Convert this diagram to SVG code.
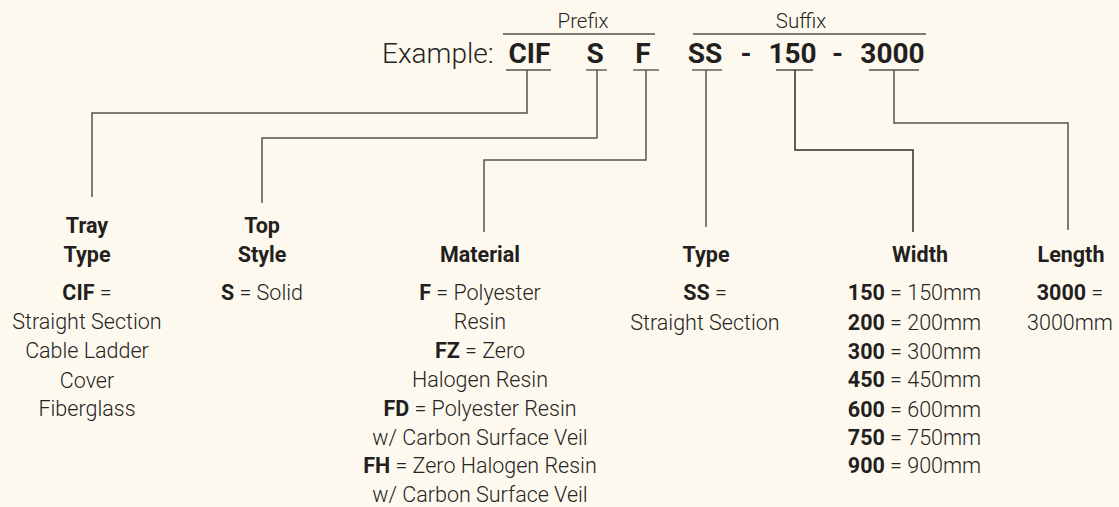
<svg xmlns="http://www.w3.org/2000/svg" width="1119" height="507" viewBox="0 0 1119 507">
<style>
.bg{fill:#fdf9ee}
.lt{font-family:Roboto,"Liberation Sans",sans-serif;font-weight:300;fill:#262424}
.bd{font-family:Roboto,"Liberation Sans",sans-serif;font-weight:700;fill:#231f20}
.body{font-size:21.5px;text-anchor:middle}
.head{font-size:21.5px;text-anchor:middle}
.code{font-size:28px;text-anchor:middle}
.bar{stroke:#7d7b74;stroke-width:1.8;fill:none}
.con{stroke:#55534e;stroke-width:1.5;fill:none}
</style>
<rect class="bg" x="0" y="0" width="1119" height="507"/>
<g id="example">
<text class="lt" x="382" y="63" font-size="28">Example:</text>
<text class="lt" x="583" y="28" font-size="20.5" text-anchor="middle">Prefix</text>
<text class="lt" x="801" y="28" font-size="20.5" text-anchor="middle">Suffix</text>
<line class="bar" x1="503" y1="34" x2="655" y2="34"/>
<line class="bar" x1="693" y1="34" x2="926" y2="34"/>
<text class="bd code" x="529.5" y="63">CIF</text>
<text class="bd code" x="595" y="63">S</text>
<text class="bd code" x="643" y="63">F</text>
<text class="bd code" x="705" y="63">SS</text>
<text class="bd code" x="746" y="63">-</text>
<text class="bd code" x="792.5" y="63">150</text>
<text class="bd code" x="837.5" y="63">-</text>
<text class="bd code" x="892.5" y="63">3000</text>
<line class="bar" x1="506" y1="70" x2="551" y2="70"/>
<line class="bar" x1="586" y1="70" x2="607" y2="70"/>
<line class="bar" x1="633" y1="70" x2="659" y2="70"/>
<line class="bar" x1="692" y1="70" x2="722" y2="70"/>
<line class="bar" x1="776" y1="70" x2="813" y2="70"/>
<line class="bar" x1="869" y1="70" x2="919" y2="70"/>
</g>
<g id="connectors">
<polyline class="con" points="527,70 527,113 92,113 92,197"/>
<polyline class="con" points="597,70 597,138 262,138 262,203"/>
<polyline class="con" points="646,70 646,160 484,160 484,232"/>
<polyline class="con" points="706,70 706,227"/>
<polyline class="con" points="795,70 795,150 913,150 913,232" style="stroke:#2f2d2a"/>
<polyline class="con" points="894,70 894,123 1068,123 1068,230"/>
</g>
<g id="tray-type">
<text class="bd head" x="87" y="233">Tray</text>
<text class="bd head" x="87" y="262">Type</text>
<text class="lt body" x="87" y="300"><tspan class="bd">CIF</tspan> =</text>
<text class="lt body" x="87" y="329">Straight Section</text>
<text class="lt body" x="87" y="358">Cable Ladder</text>
<text class="lt body" x="87" y="388">Cover</text>
<text class="lt body" x="87" y="416">Fiberglass</text>
</g>
<g id="top-style">
<text class="bd head" x="262" y="233">Top</text>
<text class="bd head" x="262" y="262">Style</text>
<text class="lt body" x="262" y="300"><tspan class="bd">S</tspan> = Solid</text>
</g>
<g id="material">
<text class="bd head" x="480" y="262">Material</text>
<text class="lt body" x="480" y="300"><tspan class="bd">F</tspan> = Polyester</text>
<text class="lt body" x="480" y="329">Resin</text>
<text class="lt body" x="480" y="358"><tspan class="bd">FZ</tspan> = Zero</text>
<text class="lt body" x="480" y="387">Halogen Resin</text>
<text class="lt body" x="480" y="416"><tspan class="bd">FD</tspan> = Polyester Resin</text>
<text class="lt body" x="480" y="445">w/ Carbon Surface Veil</text>
<text class="lt body" x="480" y="473"><tspan class="bd">FH</tspan> = Zero Halogen Resin</text>
<text class="lt body" x="480" y="502">w/ Carbon Surface Veil</text>
</g>
<g id="type">
<text class="bd head" x="706" y="262">Type</text>
<text class="lt body" x="705" y="300"><tspan class="bd">SS</tspan> =</text>
<text class="lt body" x="705" y="330">Straight Section</text>
</g>
<g id="width">
<text class="bd head" x="920" y="262">Width</text>
<text class="lt body" x="914.5" y="300"><tspan class="bd">150</tspan> = 150mm</text>
<text class="lt body" x="914.5" y="330"><tspan class="bd">200</tspan> = 200mm</text>
<text class="lt body" x="914.5" y="359"><tspan class="bd">300</tspan> = 300mm</text>
<text class="lt body" x="914.5" y="387"><tspan class="bd">450</tspan> = 450mm</text>
<text class="lt body" x="914.5" y="417"><tspan class="bd">600</tspan> = 600mm</text>
<text class="lt body" x="914.5" y="445"><tspan class="bd">750</tspan> = 750mm</text>
<text class="lt body" x="914.5" y="473"><tspan class="bd">900</tspan> = 900mm</text>
</g>
<g id="length">
<text class="bd head" x="1071" y="262">Length</text>
<text class="lt body" x="1070" y="300"><tspan class="bd">3000</tspan> =</text>
<text class="lt body" x="1070" y="330">3000mm</text>
</g>
</svg>
